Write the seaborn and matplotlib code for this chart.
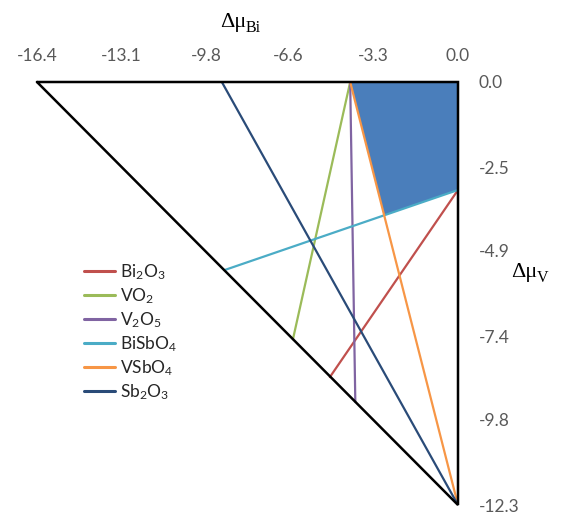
import numpy as np
import pandas as pd
import matplotlib
matplotlib.use("Agg")
import matplotlib.pyplot as plt
import seaborn as sns

# Stability-boundary lines in the (Δμ_Bi, Δμ_V) plane: two end points each
compounds = ["Bi2O3", "VO2", "V2O5", "BiSbO4", "VSbO4", "Sb2O3"]
labels = [r"Bi$_2$O$_3$", r"VO$_2$", r"V$_2$O$_5$", r"BiSbO$_4$", r"VSbO$_4$", r"Sb$_2$O$_3$"]
bi2o3_x, bi2o3_y = [-4.99, 0.0], [-8.58, -3.14]
vo2_x, vo2_y = [-4.2, -6.43], [0.0, -7.48]
v2o5_x, v2o5_y = [-4.2, -4.0], [0.0, -9.3]
bisbo4_x, bisbo4_y = [-9.1, 0.0], [-5.47, -3.14]
vsbo4_x, vsbo4_y = [-4.2, 0.0], [0.0, -12.3]
sb2o3_x, sb2o3_y = [-9.2, 0.0], [0.0, -12.3]

# Triangle of accessible chemical potentials
tri_x = [-16.4, 0.0, 0.0, -16.4]
tri_y = [0.0, 0.0, -12.3, 0.0]

x_ticks = [-16.4, -13.1, -9.8, -6.6, -3.3, 0.0]
y_ticks = [0.0, -2.5, -4.9, -7.4, -9.8, -12.3]

colors = ["#C0504D", "#9BBB59", "#8064A2", "#4BACC6", "#F79646", "#2A4B78"]
fill_color = "#4A7EBB"

xs = [bi2o3_x, vo2_x, v2o5_x, bisbo4_x, vsbo4_x, sb2o3_x]
ys = [bi2o3_y, vo2_y, v2o5_y, bisbo4_y, vsbo4_y, sb2o3_y]
rows = []
for lab, xx, yy in zip(labels, xs, ys):
    for i, (a, b) in enumerate(zip(xx, yy)):
        rows.append({"compound": lab, "x": a, "y": b, "order": i})
df = pd.DataFrame(rows)

sns.set_theme(style="white")
plt.rcParams["font.family"] = ["Lato", "DejaVu Sans"]
plt.rcParams["mathtext.fontset"] = "custom"
plt.rcParams["mathtext.rm"] = "Lato"
plt.rcParams["mathtext.it"] = "Lato:italic"
plt.rcParams["mathtext.bf"] = "Lato:bold"

fig = plt.figure(figsize=(5.65, 5.19), dpi=100)
ax = fig.add_axes([37 / 565, 1 - 505 / 519, 421 / 565, 423 / 519])

# Stable region: bounded by the VSbO4 line, the BiSbO4 line and the two axes
ox, oy = vsbo4_x, vsbo4_y
cx, cy = bisbo4_x, bisbo4_y
m_c = (cy[1] - cy[0]) / (cx[1] - cx[0])
b_c = cy[0] - m_c * cx[0]
dx, dy = ox[1] - ox[0], oy[1] - oy[0]
t = (b_c + m_c * ox[0] - oy[0]) / (dy - m_c * dx)
ix, iy = ox[0] + t * dx, oy[0] + t * dy
ax.fill([ox[0], 0.0, 0.0, ix], [0.0, 0.0, cy[1], iy], color=fill_color, lw=0, zorder=1)

sns.lineplot(data=df, x="x", y="y", hue="compound", hue_order=labels,
             palette=colors, sort=False, estimator=None, units="compound",
             linewidth=1.6, ax=ax, zorder=3)

ax.plot(tri_x, tri_y, color="black", lw=1.8, clip_on=False, zorder=4,
        solid_joinstyle="miter")

ax.set_xlim(-16.4, 0.0)
ax.set_ylim(-12.3, 0.0)
for s in ax.spines.values():
    s.set_visible(False)
ax.set_xlabel("")
ax.set_ylabel("")
ax.xaxis.tick_top()
ax.yaxis.tick_right()
ax.set_xticks(x_ticks)
ax.set_xticklabels([f"{v:.1f}" for v in x_ticks])
ax.set_yticks(y_ticks)
ax.set_yticklabels([f"{v:.1f}" for v in y_ticks])
ax.tick_params(axis="x", length=0, pad=13, labelsize=12.5, labelcolor="#595959")
ax.tick_params(axis="y", length=0, pad=15, labelsize=12.5, labelcolor="#595959")
ax.grid(False)

leg = ax.legend(loc="upper left", bbox_to_anchor=(40 / 421, 1 - 173 / 423),
                frameon=False, fontsize=12.5, handlelength=1.8,
                handletextpad=0.25, labelspacing=0.25, borderaxespad=0)
for line in leg.get_lines():
    line.set_linewidth(2.2)

serif = "Liberation Serif"
fig.text(246 / 565, 1 - 27 / 519, "Δμ", family=serif, fontsize=16,
         ha="right", va="baseline", color="black")
fig.text(246 / 565, 1 - 32 / 519, "Bi", family=serif, fontsize=11.5,
         ha="left", va="baseline", color="black")
fig.text(537 / 565, 1 - 277 / 519, "Δμ", family=serif, fontsize=16,
         ha="right", va="baseline", color="black")
fig.text(537 / 565, 1 - 282 / 519, "V", family=serif, fontsize=11.5,
         ha="left", va="baseline", color="black")

fig.savefig("out.png", dpi=100, facecolor="white")
